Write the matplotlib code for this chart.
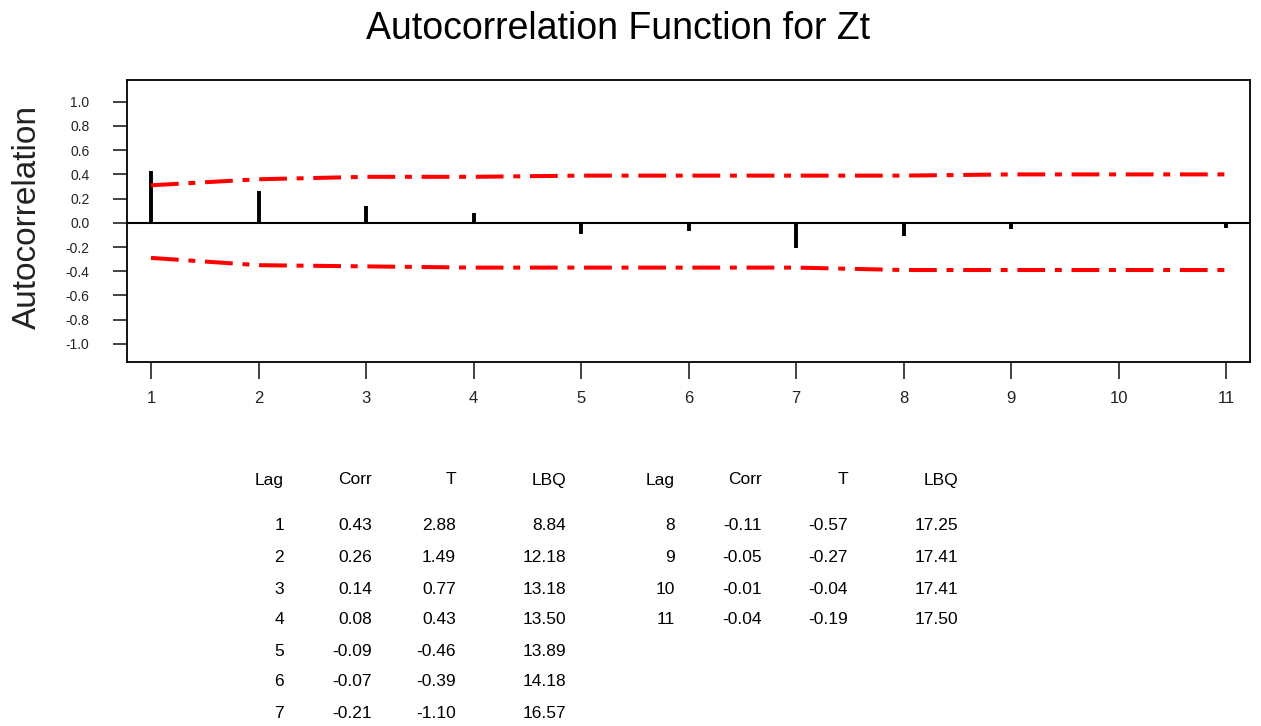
import matplotlib
matplotlib.use("Agg")
import matplotlib.pyplot as plt

lags = [1, 2, 3, 4, 5, 6, 7, 8, 9, 10, 11]
corr = [0.43, 0.26, 0.14, 0.08, -0.09, -0.07, -0.21, -0.11, -0.05, -0.01, -0.04]
tstat = [2.88, 1.49, 0.77, 0.43, -0.46, -0.39, -1.10, -0.57, -0.27, -0.04, -0.19]
lbq = [8.84, 12.18, 13.18, 13.50, 13.89, 14.18, 16.57, 17.25, 17.41, 17.41, 17.50]

# 5% significance limits (red dash-dot lines)
upper = [0.31, 0.36, 0.38, 0.38, 0.39, 0.39, 0.39, 0.39, 0.40, 0.40, 0.40]
lower = [-0.29, -0.35, -0.36, -0.37, -0.37, -0.37, -0.37, -0.39, -0.39, -0.39, -0.39]

yticks = [1.0, 0.8, 0.6, 0.4, 0.2, 0.0, -0.2, -0.4, -0.6, -0.8, -1.0]

plt.rcParams['font.family'] = ['Liberation Sans', 'DejaVu Sans']
plt.rcParams['lines.scale_dashes'] = False

W, H = 1261, 726
fig = plt.figure(figsize=(W / 100, H / 100), dpi=100)

def fx(px):
    return px / W

def fy(py):
    return 1 - py / H

ax = fig.add_axes([fx(127), fy(362), fx(1250) - fx(127), fy(80) - fy(362)])

# the acf spikes
ax.vlines(lags, 0, corr, colors='black', linewidth=2.8)
ax.axhline(0, color='black', linewidth=1.5)

dash = (0, (20, 7, 5, 7))
ax.plot(lags, upper, color='red', linewidth=2.9, linestyle=dash)
ax.plot(lags, lower, color='red', linewidth=2.9, linestyle=dash)

ax.set_xlim(0.777, 11.22)
ax.set_ylim(-1.15, 1.18)
ax.set_xticks(lags)
ax.set_xticklabels([str(l) for l in lags], fontsize=12)
ax.set_yticks(yticks)
ax.set_yticklabels(['%.1f' % v for v in yticks], fontsize=10)
ax.tick_params(axis='y', length=10, width=1.2, pad=17, colors='#222222', labelcolor='#222222')
ax.tick_params(axis='x', length=12, width=1.2, pad=9, colors='#222222', labelcolor='#222222')
for s in ax.spines.values():
    s.set_linewidth(1.3)

fig.text(fx(618), fy(29), "Autocorrelation Function for Zt", fontsize=27,
         ha='center', va='center')
fig.text(fx(27), fy(217), "Autocorrelation", fontsize=24, rotation=90,
         ha='center', va='center', color='#222222')

## TABLE ##
tfont = ['Liberation Sans', 'DejaVu Sans']
col_right = [284, 372, 456, 566]
col_right2 = [675, 762, 848, 958]
headers = ["Lag", "Corr", "T", "LBQ"]
row_y = [525, 557, 589, 620, 651, 682, 713]

for cols in (col_right, col_right2):
    for x, h in zip(cols, headers):
        fig.text(fx(x), fy(480), h, fontsize=12.5, ha='right', va='center', family=tfont)

for i in range(len(lags)):
    if i < 7:
        cols = col_right
        y = row_y[i]
    else:
        cols = col_right2
        y = row_y[i - 7]
    vals = [str(lags[i]), '%.2f' % corr[i], '%.2f' % tstat[i], '%.2f' % lbq[i]]
    for x, v in zip(cols, vals):
        fig.text(fx(x), fy(y), v, fontsize=12.5, ha='right', va='center', family=tfont)

fig.savefig("out.png", dpi=100)
